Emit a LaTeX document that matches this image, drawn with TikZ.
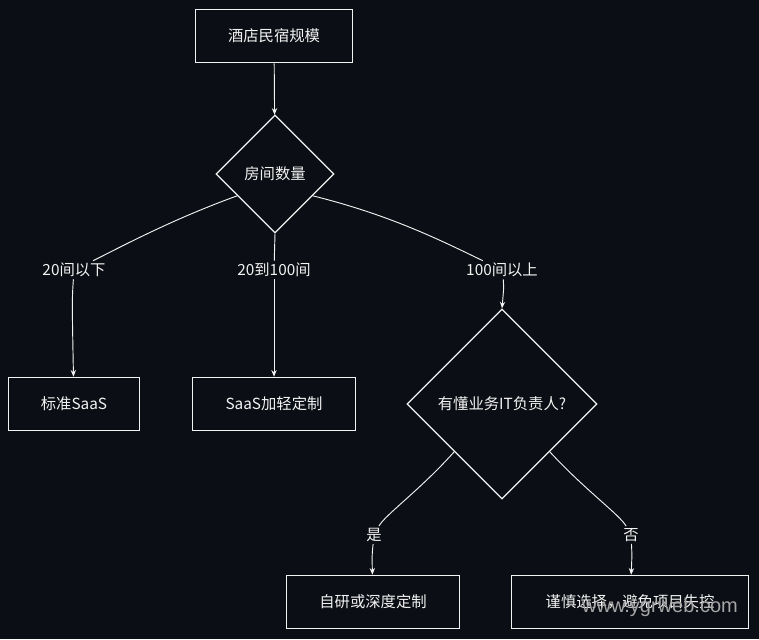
\documentclass[tikz,border=0pt]{standalone}
\usepackage{fontspec}
\setmainfont{Liberation Sans}
\newfontfamily\cjk{Noto Sans CJK SC}
\usetikzlibrary{shapes.geometric,arrows.meta}
\definecolor{bgdark}{HTML}{0B0E14}
\definecolor{inkwhite}{HTML}{F2F2F2}

\tikzset{
  txt/.style={font=\cjk\fontsize{11.5pt}{13pt}\selectfont},
  box/.style={draw=inkwhite, line width=0.9pt, minimum height=40pt, text=inkwhite, txt},
  dia/.style={draw=inkwhite, line width=0.9pt, diamond, inner sep=0pt, text=inkwhite, txt},
  lbl/.style={fill=bgdark, text=inkwhite, txt, inner sep=1.5pt},
  flow/.style={draw=inkwhite, line width=0.7pt, -{Stealth[length=5pt,width=4pt]}},
  link/.style={draw=inkwhite, line width=0.7pt}
}

\begin{document}
\begin{tikzpicture}[x=0.75pt,y=-0.75pt]
  \fill[bgdark] (0,0) rectangle (759,639);
  \useasboundingbox (0,0) rectangle (759,639);

  % nodes
  \node[box, minimum width=117.75pt] (scale) at (274,36) {酒店民宿规模};
  \node[dia, minimum width=88.5pt, minimum height=88.5pt] (rooms) at (275,174) {房间数量};
  \node[box, minimum width=98.25pt] (saas) at (74,404) {标准SaaS};
  \node[box, minimum width=122.25pt] (light) at (274,404) {SaaS加轻定制};
  \node[dia, minimum width=142.5pt, minimum height=142.5pt] (itlead) at (502,404) {有懂业务IT负责人?};
  \node[box, minimum width=129.75pt] (self) at (373,602) {自研或深度定制};
  \node[box, minimum width=177.75pt] (careful) at (630,602) {谨慎选择，避免项目失控};

  % labels
  \node[lbl] (small) at (74,270) {20间以下};
  \node[lbl] (mid) at (274,270) {20到100间};
  \node[lbl] (big) at (502,270) {100间以上};
  \node[lbl] (yes) at (374,535) {是};
  \node[lbl] (no) at (631,535) {否};

  % connectors
  \draw[flow] (scale) -- (rooms);
  \draw[link] (rooms.210) .. controls (170,220) and (115,250) .. (small);
  \draw[flow] (small) .. controls (72,300) .. (saas);
  \draw[link] (rooms.south) -- (mid);
  \draw[flow] (mid) -- (light);
  \draw[link] (rooms.330) .. controls (390,215) and (440,240) .. (big);
  \draw[flow] (big) .. controls (504,285) .. (itlead.north);
  \draw[link] (itlead.225) .. controls (420,490) and (385,515) .. (yes);
  \draw[flow] (yes) .. controls (372,555) .. (self);
  \draw[link] (itlead.315) .. controls (585,490) and (620,515) .. (no);
  \draw[flow] (no) .. controls (632,555) .. (careful);

  \node[text=gray!70, font=\fontsize{15pt}{17pt}\selectfont] (mark) at (660,607) {www.ygrweb.com};
\end{tikzpicture}
\end{document}
